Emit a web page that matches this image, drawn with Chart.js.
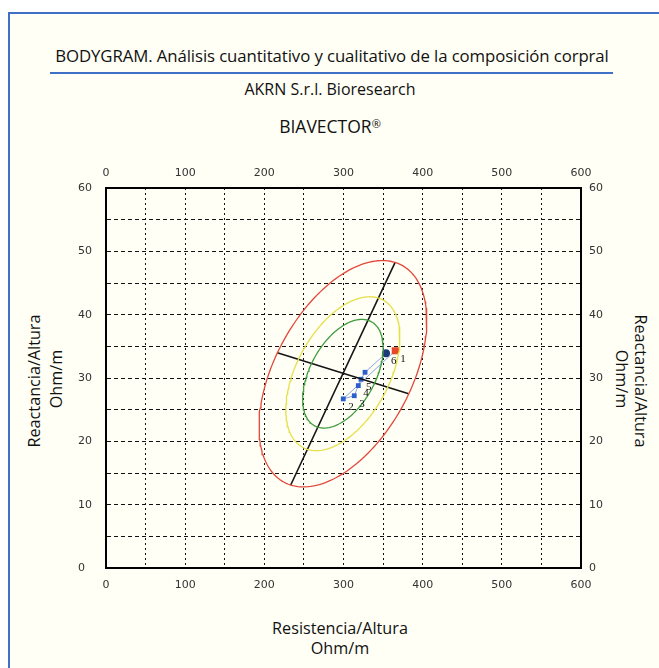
<!DOCTYPE html>
<html lang="es">
<head>
<meta charset="utf-8">
<title>BIAVECTOR</title>
<script src="https://cdn.jsdelivr.net/npm/chart.js@4.4.1/dist/chart.umd.min.js"></script>
<style>
  html, body { margin: 0; padding: 0; background: #fff; }
  body { width: 659px; height: 668px; position: relative; overflow: hidden; font-family: "Open Sans", "Noto Sans", sans-serif; color: #111; }
  .panel { position: absolute; left: 8px; top: 12px; width: 700px; height: 700px; background: #fffff5; border-left: 2px solid #3f6fc6; border-top: 2px solid #3f6fc6; }
  .txt { position: absolute; white-space: nowrap; transform: translate(-50%, -50%); line-height: 1; }
  .rule { position: absolute; left: 50px; top: 72px; width: 563px; height: 0; border-top: 2px solid #3f6fc6; }
  canvas { position: absolute; left: 0; top: 0; }
</style>
</head>
<body>
<div class="panel"></div>
<div class="txt" style="left:332px; top:56px; font-size:16.8px; letter-spacing:-0.1px;">BODYGRAM. Análisis cuantitativo y cualitativo de la composición corpral</div>
<div class="rule"></div>
<div class="txt" style="left:330px; top:89px; font-size:16px;">AKRN S.r.l. Bioresearch</div>
<div class="txt" style="left:330px; top:127px; font-size:17.5px;">BIAVECTOR<span style="font-size:11px; vertical-align:5px;">®</span></div>

<div class="txt" style="left:34px; top:381px; font-size:16.2px; transform:translate(-50%,-50%) rotate(-90deg);">Reactancia/Altura</div>
<div class="txt" style="left:56px; top:379px; font-size:16.2px; transform:translate(-50%,-50%) rotate(-90deg);">Ohm/m</div>
<div class="txt" style="left:641px; top:381px; font-size:16.2px; transform:translate(-50%,-50%) rotate(90deg);">Reactancia/Altura</div>
<div class="txt" style="left:622px; top:379px; font-size:16.2px; transform:translate(-50%,-50%) rotate(90deg);">Ohm/m</div>
<div class="txt" style="left:340px; top:628px; font-size:16.2px;">Resistencia/Altura</div>
<div class="txt" style="left:340px; top:648px; font-size:16.2px;">Ohm/m</div>

<canvas id="biva" width="659" height="668"></canvas>

<script>
// Ejes: R/H (Ohm/m) horizontal, Xc/H (Ohm/m) vertical
const xMin = 0, xMax = 600, xStep = 50, xLabelEvery = 100;
const yMin = 0, yMax = 60, yStep = 5, yLabelEvery = 10;

// Elipses de tolerancia: extremos de los ejes
const ejeMayor = [[233.3, 13.1], [365.2, 48.25]];
const ejeMenor = [[216.4, 34.0], [382.3, 27.5]];
const escalasElipse = [0.48, 0.68, 1.0];            // 50%, 75%, 95%
const coloresElipse = ['#3f9c3f', '#e6df4c', '#e2483c'];

// Mediciones del paciente (R/H, Xc/H)
const medX = [365.4, 299.7, 313.6, 318.7, 322.1, 327.2, 353.7];
const medY = [34.3, 26.7, 27.2, 28.8, 29.8, 30.9, 33.9];
const medEtiquetas = ['1', '2', '3', '4', '5', '', '6'];

// centro y semiejes conjugados
const centro = [(ejeMayor[0][0] + ejeMayor[1][0]) / 2, (ejeMayor[0][1] + ejeMayor[1][1]) / 2];
const semiA = [(ejeMayor[1][0] - ejeMayor[0][0]) / 2, (ejeMayor[1][1] - ejeMayor[0][1]) / 2];
const semiB = [(ejeMenor[1][0] - ejeMenor[0][0]) / 2, (ejeMenor[1][1] - ejeMenor[0][1]) / 2];

function puntosElipse(k) {
    const pts = [];
    for (let i = 0; i <= 180; i++) {
        const t = i / 180 * Math.PI * 2;
        pts.push({
            x: centro[0] + k * (Math.cos(t) * semiA[0] + Math.sin(t) * semiB[0]),
            y: centro[1] + k * (Math.cos(t) * semiA[1] + Math.sin(t) * semiB[1])
        });
    }
    return pts;
}

const datasets = [];
escalasElipse.forEach((k, i) => {
    datasets.push({
        data: puntosElipse(k), showLine: true, pointRadius: 0,
        borderColor: coloresElipse[i], borderWidth: 1.3, fill: false
    });
});
[ejeMayor, ejeMenor].forEach(eje => {
    datasets.push({
        data: eje.map(p => ({ x: p[0], y: p[1] })), showLine: true, pointRadius: 0,
        borderColor: '#151515', borderWidth: 1.6
    });
});

const mediciones = medX.map((x, i) => ({ x: x, y: medY[i] }));
const ultimo = mediciones.length - 1;
datasets.push({
    data: mediciones, showLine: true,
    borderColor: '#8aa3e6', borderWidth: 1,
    pointStyle: mediciones.map((p, i) => i === ultimo ? 'circle' : 'rect'),
    pointRadius: mediciones.map((p, i) => i === 0 ? 5 : (i === ultimo ? 4 : 3.4)),
    pointBackgroundColor: mediciones.map((p, i) => i === 0 ? '#e8472c' : (i === ultimo ? '#1c3a78' : '#2d5fcc')),
    pointBorderColor: mediciones.map((p, i) => i === 0 ? '#e8472c' : (i === ultimo ? '#1c3a78' : '#2d5fcc')),
    pointBorderWidth: 0
});

// Etiquetas numéricas junto a cada medición
const etiquetasPlugin = {
    id: 'etiquetas',
    afterDatasetsDraw(chart) {
        const { ctx, scales } = chart;
        ctx.save();
        ctx.font = '11px "Liberation Serif", serif';
        ctx.fillStyle = '#111';
        ctx.textAlign = 'left';
        ctx.textBaseline = 'middle';
        medEtiquetas.forEach((t, i) => {
            if (!t) return;
            ctx.fillText(t, scales.x.getPixelForValue(medX[i]) + 5, scales.y.getPixelForValue(medY[i]) + 8);
        });
        ctx.restore();
    }
};

const fuenteTicks = { family: 'DejaVu Sans', size: 11 };
function ejeX(pos, conRejilla) {
    return {
        type: 'linear', position: pos, min: xMin, max: xMax,
        ticks: {
            stepSize: xStep, autoSkip: false, maxRotation: 0, color: '#333', font: fuenteTicks,
            padding: pos === 'top' ? 8 : 11,
            callback: v => (v % xLabelEvery === 0 ? v : '')
        },
        grid: { display: true, drawOnChartArea: conRejilla, drawTicks: false, color: '#111', lineWidth: 1 },
        border: { display: true, color: '#000', width: 2, dash: [2, 3] },
        afterFit: s => { s.height = pos === 'top' ? 20 : 30; }
    };
}
function ejeY(pos, conRejilla) {
    return {
        type: 'linear', position: pos, min: yMin, max: yMax,
        ticks: {
            stepSize: yStep, autoSkip: false, color: '#333', font: fuenteTicks,
            padding: 8, crossAlign: pos === 'left' ? 'far' : 'near',
            callback: v => (v % yLabelEvery === 0 ? v : '')
        },
        grid: { display: true, drawOnChartArea: conRejilla, drawTicks: false, color: '#111', lineWidth: 1 },
        border: { display: true, color: '#000', width: 2, dash: [4, 3] },
        afterFit: s => { s.width = pos === 'left' ? 28 : 30; }
    };
}

new Chart(document.getElementById('biva'), {
    type: 'scatter',
    data: { datasets: datasets },
    options: {
        responsive: false,
        animation: false,
        layout: { padding: { left: 78, right: 48, top: 168, bottom: 70 } },
        plugins: { legend: { display: false }, tooltip: { enabled: false } },
        scales: {
            x: ejeX('bottom', true),
            x2: ejeX('top', false),
            y: ejeY('left', true),
            y2: ejeY('right', false)
        }
    },
    plugins: [etiquetasPlugin]
});
</script>
</body>
</html>
